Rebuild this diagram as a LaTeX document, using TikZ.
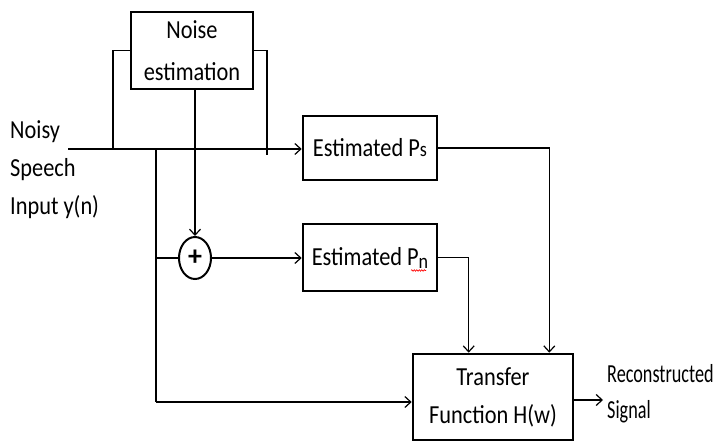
\documentclass[tikz,border=0pt]{standalone}
\usepackage{fontspec}
\setmainfont{Carlito}
\newfontfamily\cf{Carlito}[FakeStretch=0.86]
\newfontfamily\cfn{Carlito}[FakeStretch=0.70]
\usetikzlibrary{arrows.meta,shapes.geometric,calc,decorations.pathmorphing}
\begin{document}
\begin{tikzpicture}[x=1pt,y=-1pt,
  txt/.style={font=\cf\fontsize{26}{38}\selectfont, inner sep=0pt},
  blk/.style={draw, line width=2.6pt, txt, align=center},
  con/.style={line width=1.2pt},
  arr/.style={con, -{Straight Barb[length=6pt,width=11pt,line width=1.2pt]}}
]
\useasboundingbox (0,0) rectangle (714,446);
\clip (0,0) rectangle (714,446);
\fill[white] (0,0) rectangle (714,446);

\node[blk, minimum width=122pt, minimum height=77pt, font=\cf\fontsize{26}{42}\selectfont] (ne) at (192,50.5) {Noise\\estimation};
\node[blk, minimum width=134pt, minimum height=64pt] (ps) at (370,148) {Estimated P{\fontsize{21}{21}\selectfont s}};
\node[blk, minimum width=134pt, minimum height=67pt] (pn) at (370,257.5) {Estimated P\raisebox{-3pt}{\fontsize{21}{21}\selectfont n}};
\node[blk, minimum width=160pt, minimum height=86pt] (tf) at (493,397) {Transfer\\Function H(w)};
\node[draw, ellipse, line width=2pt, minimum width=32pt, minimum height=42pt, inner sep=0pt] (sum) at (195,258) {\fontsize{28}{28}\selectfont\bfseries +};

\node[txt, align=left, anchor=north west] (in) at (10,120) {Noisy\\Speech\\Input y(n)};
\node[txt, align=left, anchor=north west, font=\cfn\fontsize{26}{36}\selectfont] (out) at (607,364) {Reconstructed\\Signal};

\coordinate (a) at (68,149);
\coordinate (b) at (113,149);
\coordinate (c) at (267,155);
\coordinate (d) at (156,149);
\coordinate (e) at (156,402);
\coordinate (f) at (156,258);
\coordinate (g) at (603,400);

\draw[arr] (a) -- (a -| ps.west);
\draw[con] (b) |- (ne.west);
\draw[con] (ne.east) -| (c);
\draw[arr] (sum.north |- ne.south) -- (sum.north);
\draw[con] (d) -- (e);
\draw[arr] (e) -- (e -| tf.west);
\draw[con] (f) -- (sum.west);
\draw[arr] (sum.east) -- (sum.east -| pn.west);
\draw[arr] (ps.east) -| ($(tf.north east)+(-25,0)$);
\draw[arr] (pn.east) -| ($(tf.north west)+(57,0)$);
\draw[arr] (g -| tf.east) -- (g);
\draw[red, line width=0.6pt, decorate, decoration={snake, amplitude=0.8pt, segment length=2.5pt}] ($(pn.center)+(41,13)$) -- ($(pn.center)+(56,13)$);
\end{tikzpicture}
\end{document}
